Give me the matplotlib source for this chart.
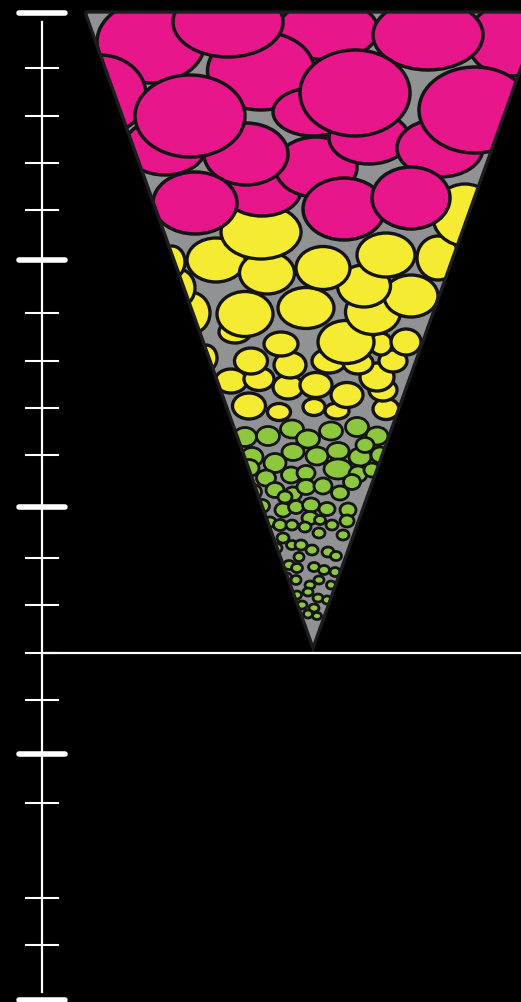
import matplotlib
matplotlib.use("Agg")
import matplotlib.pyplot as plt
from matplotlib.patches import Ellipse, Polygon

# funnel corners (x, y in pixels, y grows downward)
funnel = [(85, 12), (541, 12), (313, 648)]

# ellipses: (cx, cy, width, height), drawn in list order
pink = [
    (151, 42, 108, 82), (100, 95, 92, 80), (328, 30, 100, 60), (510, 40, 85, 72),
    (262, 190, 78, 52), (165, 147, 82, 56), (261, 71, 107, 78), (228, 22, 110, 70),
    (316, 167, 82, 60), (313, 112, 80, 48), (369, 138, 80, 52), (428, 35, 110, 70),
    (440, 148, 86, 58), (475, 110, 112, 86), (246, 154, 84, 62), (190, 116, 110, 82),
    (355, 93, 110, 86), (195, 203, 84, 62), (344, 209, 82, 62), (411, 198, 78, 62),
]
yellow = [
    (210, 403, 26, 26), (249, 406, 33, 26), (279, 412, 23, 17), (314, 407, 22, 17),
    (337, 411, 24, 16), (386, 409, 26, 21), (231, 381, 32, 24), (259, 379, 30, 23),
    (288, 387, 30, 24), (316, 385, 32, 25), (347, 395, 32, 25), (383, 390, 28, 22),
    (377, 377, 34, 28), (206, 358, 22, 26), (251, 361, 33, 26), (290, 365, 32, 26),
    (329, 361, 34, 24), (358, 363, 30, 22), (393, 361, 28, 22), (381, 344, 22, 22),
    (281, 344, 34, 24), (406, 342, 30, 26), (235, 332, 32, 22), (346, 342, 56, 43),
    (190, 313, 40, 42), (245, 314, 56, 45), (306, 308, 56, 41), (373, 312, 55, 45),
    (411, 296, 54, 42), (364, 286, 53, 42), (178, 288, 34, 38), (216, 260, 58, 44),
    (267, 273, 55, 42), (323, 268, 54, 43), (386, 255, 58, 44), (438, 258, 42, 44),
    (172, 262, 26, 32), (261, 232, 80, 54), (465, 215, 65, 62),
]
green = [
    (245, 437, 23, 19), (268, 436, 23, 19), (292, 429, 23, 18), (308, 439, 23, 18),
    (331, 431, 23, 18), (357, 427, 23, 19), (377, 436, 22, 18), (252, 457, 22, 19),
    (275, 463, 22, 19), (293, 452, 22, 17), (317, 456, 22, 18), (338, 451, 22, 17),
    (360, 457, 22, 18), (380, 455, 18, 16), (249, 468, 20, 17), (266, 478, 19, 16),
    (291, 475, 19, 16), (306, 473, 18, 15), (338, 469, 28, 20), (358, 474, 18, 16),
    (372, 470, 16, 14), (253, 492, 17, 15), (275, 490, 18, 15), (293, 494, 17, 14),
    (306, 487, 18, 15), (323, 486, 18, 16), (340, 493, 17, 14), (352, 482, 17, 15),
    (262, 506, 15, 13), (283, 510, 16, 14), (296, 507, 15, 13), (311, 505, 17, 14),
    (327, 509, 16, 13), (348, 510, 16, 14), (310, 518, 16, 13), (270, 522, 12, 10),
    (280, 525, 13, 11), (292, 525, 12, 10), (305, 527, 12, 10), (319, 533, 12, 10),
    (332, 525, 12, 10), (347, 521, 14, 12), (343, 535, 12, 10), (283, 538, 12, 10),
    (292, 545, 11, 9), (301, 545, 12, 10), (312, 550, 12, 10), (328, 552, 12, 10),
    (336, 556, 11, 9), (277, 548, 10, 9), (289, 565, 11, 9), (297, 568, 11, 9),
    (314, 567, 11, 9), (324, 570, 11, 9), (335, 572, 10, 9), (296, 580, 10, 9),
    (310, 585, 10, 8), (319, 580, 10, 8), (287, 577, 9, 8), (308, 592, 10, 8),
    (318, 598, 10, 8), (327, 600, 9, 8), (302, 605, 10, 8), (314, 608, 10, 8),
    (308, 614, 9, 8), (317, 616, 9, 7), (297, 595, 9, 8), (320, 520, 11, 9),
    (299, 557, 10, 9), (331, 585, 9, 8), (285, 497, 14, 12), (365, 445, 18, 15),
]

# ruler
minor_ticks = [68, 116, 163, 210, 313, 361, 408, 455, 558, 605, 653, 700, 803, 898, 945]
major_ticks = [260, 507, 754]
caps = [13, 1000]
baseline = 653

fig = plt.figure(figsize=(5.21, 10.02), dpi=100, facecolor='black')
ax = fig.add_axes([0, 0, 1, 1])
ax.set_xlim(0, 521)
ax.set_ylim(1002, 0)
ax.axis('off')

tri = Polygon(funnel, closed=True, facecolor='#919293', edgecolor='none', zorder=1)
ax.add_patch(tri)

layers = [(green, '#8dc63f', 2.0), (yellow, '#f6eb33', 2.4), (pink, '#e8168b', 2.5)]
z = 2
for group, col, lw in layers:
    for cx, cy, w, h in group:
        e = Ellipse((cx, cy), w, h, facecolor=col, edgecolor='#141414', linewidth=lw, zorder=z)
        ax.add_patch(e)
        e.set_clip_path(tri)
        z += 0.01

# funnel outline
ax.add_patch(Polygon(funnel, closed=True, fill=False, edgecolor='#1c1c1e',
                     linewidth=2.4, joinstyle='miter', zorder=10))

# ruler lines
ax.plot([42, 42], [22, 992], color='white', lw=1.6, zorder=11)
for y in minor_ticks:
    ax.plot([26, 58], [y, y], color='white', lw=1.5, zorder=11)
for y in major_ticks + caps:
    ax.plot([19, 65], [y, y], color='white', lw=4.0, solid_capstyle='round', zorder=11)
ax.plot([42, 521], [baseline, baseline], color='white', lw=1.6, zorder=11)

fig.savefig('out.png', dpi=100, facecolor='black')
